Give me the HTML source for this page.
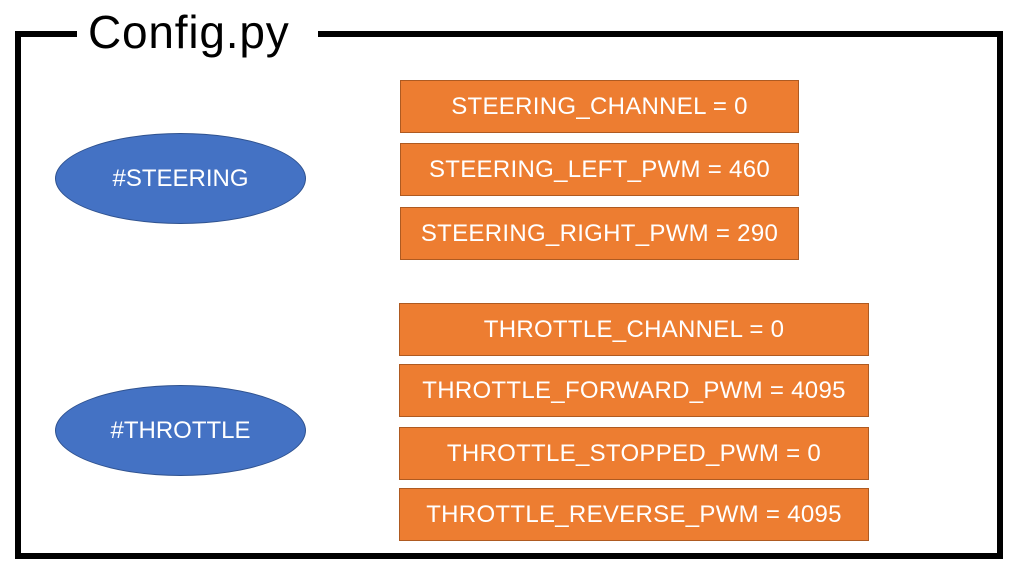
<!DOCTYPE html>
<html><head><meta charset="utf-8"><style>
body{margin:0;width:1014px;height:571px;background:#fff;position:relative;overflow:hidden;font-family:"Liberation Sans",sans-serif}
.frame{position:absolute;left:15px;top:31px;width:976px;height:516px;border:6px solid #000}
.gap{position:absolute;left:77px;top:20px;width:241px;height:24px;background:#fff}
.title{position:absolute;left:88px;top:4px;font-size:46px;letter-spacing:0.8px;color:#000;line-height:56px}
.b{position:absolute;background:#ed7d31;border:1px solid #ae5a21;color:#fff;font-size:24px;letter-spacing:0.3px;display:flex;align-items:center;justify-content:center;box-sizing:border-box}
.e{position:absolute;background:#4472c4;border:1px solid #2f528f;border-radius:50%;color:#fff;font-size:24px;display:flex;align-items:center;justify-content:center;box-sizing:border-box;width:251px;height:91px;left:55px}
</style></head><body>
<div class="frame"></div>
<div class="gap"></div>
<div class="title">Config.py</div>
<div class="e" style="top:133px">#STEERING</div>
<div class="e" style="top:385px">#THROTTLE</div>
<div class="b" style="left:400px;top:80px;width:399px;height:53px">STEERING_CHANNEL = 0</div>
<div class="b" style="left:400px;top:143px;width:399px;height:53px">STEERING_LEFT_PWM = 460</div>
<div class="b" style="left:400px;top:207px;width:399px;height:53px">STEERING_RIGHT_PWM = 290</div>
<div class="b" style="left:399px;top:303px;width:470px;height:53px">THROTTLE_CHANNEL = 0</div>
<div class="b" style="left:399px;top:364px;width:470px;height:53px">THROTTLE_FORWARD_PWM = 4095</div>
<div class="b" style="left:399px;top:427px;width:470px;height:53px">THROTTLE_STOPPED_PWM = 0</div>
<div class="b" style="left:399px;top:488px;width:470px;height:53px">THROTTLE_REVERSE_PWM = 4095</div>
</body></html>
